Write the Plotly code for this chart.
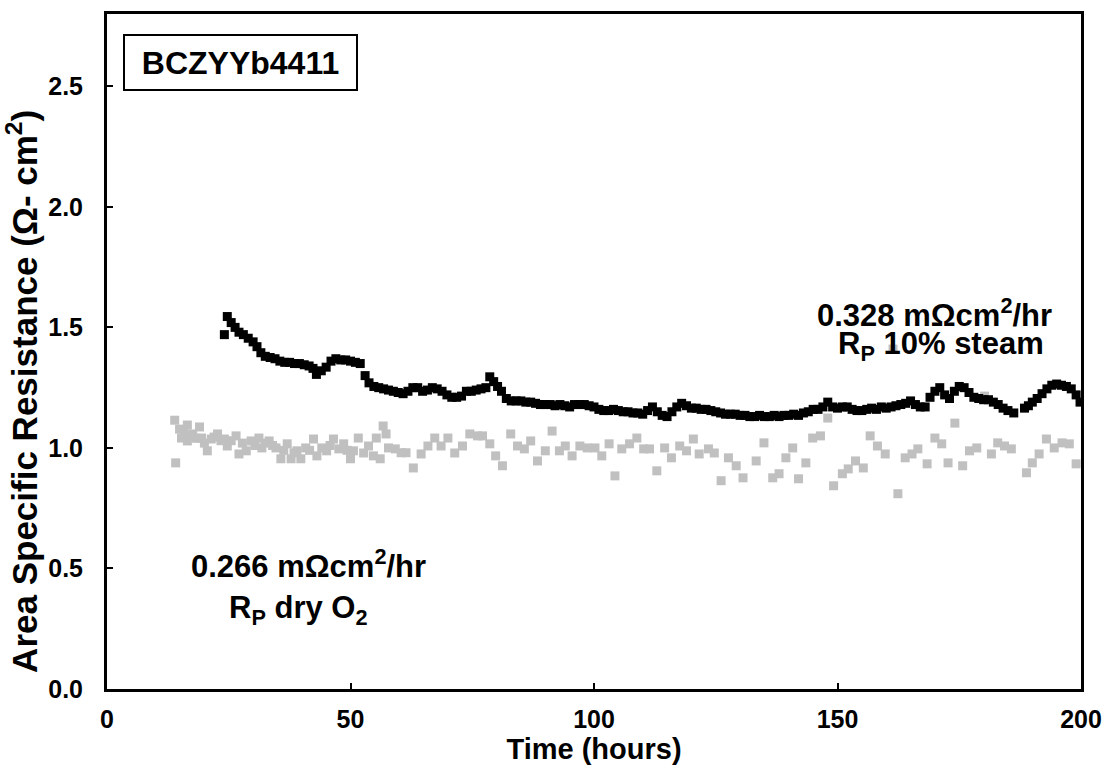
import plotly.graph_objects as go

# Rp in 10% steam (black)
steam_t = [24.1, 24.7, 25.5, 26.3, 27.1, 28.0, 29.0, 30.0, 30.8, 31.6, 32.5, 33.5, 34.5, 35.5, 36.5, 37.5,
           38.5, 39.5, 40.5, 41.5, 42.3, 43.0, 44.0, 45.0, 46.0, 47.0, 48.0, 49.0, 50.0, 51.0, 52.0, 53.0,
           53.8, 54.8, 55.8, 56.8, 57.8, 58.8, 59.8, 60.8, 61.8, 62.8, 63.8, 64.8, 65.8, 66.8, 67.8, 68.8,
           69.8, 70.8, 71.8, 72.8, 73.8, 74.8, 75.8, 76.8, 77.8, 78.6, 79.4, 80.2, 81.0, 82.0, 83.0, 84.0,
           85.0, 86.0, 87.0, 88.0, 89.0, 90.0, 91.0, 92.0, 93.0, 94.0, 95.0, 96.0, 97.0, 98.0, 99.0, 100.0,
           101.0, 102.0, 103.0, 104.0, 105.0, 106.0, 107.0, 108.0, 109.0, 110.0, 111.0, 112.0, 113.0, 114.0,
           115.0, 116.0, 117.0, 118.0, 119.0, 120.0, 121.0, 122.0, 123.0, 124.0, 125.0, 126.0, 127.0, 128.0,
           129.0, 130.0, 131.0, 132.0, 133.0, 134.0, 135.0, 136.0, 137.0, 138.0, 139.0, 140.0, 141.0, 142.0,
           143.0, 144.0, 145.0, 146.0, 147.0, 148.0, 149.0, 150.0, 151.0, 152.0, 153.0, 154.0, 155.0, 156.0,
           157.0, 158.0, 159.0, 160.0, 161.0, 162.0, 163.0, 164.0, 165.0, 166.0, 167.0, 168.0, 169.0, 170.0,
           171.0, 172.0, 173.0, 174.0, 175.0, 176.0, 177.0, 178.0, 179.0, 180.0, 181.0, 182.0, 183.0, 184.0,
           185.0, 186.2, 188.4, 189.2, 190.0, 191.0, 192.0, 193.0, 194.0, 195.0, 196.0, 197.0, 198.0, 199.0,
           199.8]
steam_asr = [1.47, 1.545, 1.52, 1.50, 1.48, 1.47, 1.455, 1.44, 1.42, 1.395, 1.38, 1.375, 1.37, 1.36, 1.355, 1.355,
             1.35, 1.35, 1.345, 1.34, 1.33, 1.305, 1.32, 1.335, 1.36, 1.37, 1.365, 1.365, 1.36, 1.355, 1.35, 1.30,
             1.27, 1.255, 1.25, 1.245, 1.24, 1.235, 1.23, 1.225, 1.235, 1.25, 1.25, 1.235, 1.24, 1.25, 1.245, 1.235,
             1.22, 1.21, 1.21, 1.215, 1.235, 1.235, 1.24, 1.245, 1.25, 1.295, 1.275, 1.255, 1.235, 1.205, 1.195, 1.195,
             1.195, 1.19, 1.19, 1.185, 1.18, 1.18, 1.18, 1.175, 1.18, 1.175, 1.17, 1.18, 1.18, 1.18, 1.175, 1.17,
             1.16, 1.155, 1.155, 1.16, 1.155, 1.15, 1.15, 1.145, 1.145, 1.14, 1.155, 1.17, 1.15, 1.135,
             1.13, 1.15, 1.17, 1.185, 1.175, 1.165, 1.165, 1.16, 1.16, 1.155, 1.15, 1.145, 1.14, 1.14,
             1.14, 1.135, 1.135, 1.13, 1.13, 1.135, 1.13, 1.13, 1.135, 1.13, 1.135, 1.135, 1.14, 1.135,
             1.145, 1.15, 1.16, 1.16, 1.17, 1.19, 1.17, 1.165, 1.17, 1.17, 1.16, 1.155, 1.155, 1.16,
             1.165, 1.16, 1.17, 1.165, 1.17, 1.175, 1.18, 1.185, 1.195, 1.18, 1.17, 1.17, 1.21, 1.235,
             1.25, 1.22, 1.205, 1.235, 1.255, 1.25, 1.23, 1.21, 1.205, 1.20, 1.20, 1.19, 1.18, 1.165,
             1.155, 1.145, 1.165, 1.175, 1.19, 1.205, 1.225, 1.245, 1.26, 1.265, 1.26, 1.255, 1.245, 1.22,
             1.19]

# Rp in dry O2 (grey)
dry_t = [13.9, 14.1, 14.9, 15.3, 15.8, 16.5, 16.5, 17.1, 17.6, 18.3, 19.0, 19.4, 20.0, 20.6, 21.4, 22.0,
         22.7, 23.4, 24.1, 24.7, 25.5, 26.5, 27.1, 27.8, 28.6, 29.6, 30.4, 31.2, 31.8, 32.5, 33.3, 34.0,
         34.7, 35.7, 36.3, 37.0, 37.8, 38.4, 39.0, 39.8, 40.8, 41.6, 42.4, 43.1, 44.1, 45.1, 45.8, 46.5,
         47.6, 48.6, 49.3, 50.0, 50.6, 51.6, 52.7, 53.7, 54.7, 55.3, 56.1, 56.7, 57.3, 57.8, 59.2, 60.4,
         61.4, 62.9, 64.5, 65.9, 67.3, 68.6, 70.0, 71.4, 73.0, 74.5, 76.1, 77.1, 78.6, 79.8, 81.2, 82.9,
         84.3, 85.7, 87.0, 88.4, 90.0, 91.4, 92.9, 94.1, 95.5, 97.1, 98.6, 100.2, 101.6, 103.1, 104.3, 105.7,
         107.3, 108.8, 110.2, 111.4, 112.9, 114.5, 115.9, 117.6, 119.0, 120.4, 121.6, 123.5, 124.7, 126.1,
         127.6, 129.2, 130.6, 133.3, 134.9, 136.7, 138.0, 139.4, 140.8, 142.0, 143.5, 144.9, 146.5, 148.0,
         149.2, 151.0, 152.2, 153.7, 155.3, 156.7, 158.2, 159.8, 161.4, 162.4, 163.9, 165.3, 166.5, 168.4,
         170.0, 171.4, 172.7, 174.1, 175.7, 177.1, 178.6, 180.2, 181.6, 182.9, 184.3, 185.7, 188.8, 190.0,
         191.4, 192.9, 194.5, 196.1, 197.6, 199.0]
dry_asr = [1.115, 0.938, 1.078, 1.041, 1.06, 1.095, 1.029, 1.05, 1.058, 1.04, 1.087, 1.041, 1.02, 0.988, 1.037, 1.045,
           1.058, 1.03, 1.037, 1.008, 1.03, 1.05, 0.975, 1.02, 0.988, 1.029, 1.01, 1.041, 1.0, 1.02, 1.029, 1.01,
           1.0, 0.955, 0.99, 1.017, 0.955, 0.98, 0.988, 0.955, 1.0, 0.99, 1.037, 0.967, 1.0, 0.988, 1.01, 1.037,
           0.996, 1.017, 0.99, 0.955, 0.988, 1.041, 0.979, 1.008, 0.967, 1.041, 0.955, 1.091, 1.058, 1.0, 0.996, 0.98,
           0.98, 0.917, 0.975, 1.008, 1.041, 1.008, 1.041, 0.979, 1.008, 1.058, 1.05, 1.05, 1.017, 0.967, 0.926, 1.058,
           1.008, 0.996, 1.029, 0.946, 0.988, 1.07, 0.988, 1.008, 0.967, 1.008, 1.0, 1.0, 0.967, 1.017, 0.884, 0.996,
           1.017, 1.041, 0.996, 0.996, 0.905, 1.0, 0.959, 1.008, 0.988, 1.037, 0.975, 0.996, 0.979, 0.864,
           0.959, 0.926, 0.876, 0.946, 1.021, 0.876, 0.893, 0.959, 1.0, 0.872, 0.938, 1.041, 1.05, 1.124,
           0.843, 0.893, 0.913, 0.946, 0.917, 1.05, 1.008, 0.975, 1.41, 0.81, 0.959, 0.975, 0.996, 0.934,
           1.041, 1.017, 0.938, 1.103, 0.926, 0.988, 1.0, 1.215, 0.975, 1.021, 1.008, 0.996, 0.897, 0.938,
           0.975, 1.037, 1.0, 1.021, 1.017, 0.934]

x_ticks = [0, 50, 100, 150, 200]
y_ticks = [0.0, 0.5, 1.0, 1.5, 2.0, 2.5]
y_tick_text = ["0.0", "0.5", "1.0", "1.5", "2.0", "2.5"]

FONT = "Liberation Sans, Arial, sans-serif"

fig = go.Figure()
fig.add_trace(go.Scatter(x=dry_t, y=dry_asr, mode="markers",
                         marker=dict(symbol="square", size=9, color="#c0c0c0", line=dict(width=0)),
                         showlegend=False))
fig.add_trace(go.Scatter(x=steam_t, y=steam_asr, mode="markers",
                         marker=dict(symbol="square", size=9, color="#000000", line=dict(width=0)),
                         showlegend=False))

fig.update_layout(
    width=1113, height=773,
    margin=dict(l=107, r=26, t=11, b=84),
    paper_bgcolor="white", plot_bgcolor="white",
    font=dict(family=FONT, color="black"),
    xaxis=dict(range=[0, 200], tickvals=x_ticks, ticktext=[f"<b>{v}</b>" for v in x_ticks],
               ticks="inside", ticklen=6, tickwidth=2, tickcolor="black",
               showline=True, linewidth=3, linecolor="black", mirror=True,
               showgrid=False, zeroline=False, tickfont=dict(size=25, family=FONT),
               ticklabelstandoff=6,
               title=dict(text="<b>Time (hours)</b>", font=dict(size=29, family=FONT), standoff=6)),
    yaxis=dict(range=[0, 2.8], tickvals=y_ticks, ticktext=[f"<b>{t}</b>" for t in y_tick_text],
               ticks="inside", ticklen=6, tickwidth=2, tickcolor="black",
               showline=True, linewidth=3, linecolor="black", mirror=True,
               showgrid=False, zeroline=False, tickfont=dict(size=25, family=FONT),
               ticklabelstandoff=16),
)

# y-axis title (placed to match the reference's position)
fig.add_annotation(xref="paper", yref="paper", x=-0.0867, y=0.441, xanchor="center", yanchor="middle",
                   textangle=-90, showarrow=False,
                   text="<b>Area Specific Resistance (Ω- cm<sup>2</sup>)</b>",
                   font=dict(size=35, family=FONT, color="black"))

fig.add_annotation(xref="paper", yref="paper", x=0.016, y=0.970, xanchor="left", yanchor="top",
                   text="<b>BCZYYb4411</b>", showarrow=False, width=229, height=51,
                   font=dict(size=32, family=FONT, color="black"),
                   bordercolor="black", borderwidth=2, borderpad=1, bgcolor="white")
fig.add_annotation(x=170.0, y=1.558, xref="x", yref="y", showarrow=False,
                   text="<b>0.328 mΩcm<sup>2</sup>/hr</b>", font=dict(size=31, family=FONT, color="black"))
fig.add_annotation(x=171.2, y=1.424, xref="x", yref="y", showarrow=False,
                   text="<b>R<sub>P</sub> 10% steam</b>", font=dict(size=31, family=FONT, color="black"))
fig.add_annotation(x=41.4, y=0.518, xref="x", yref="y", showarrow=False,
                   text="<b>0.266 mΩcm<sup>2</sup>/hr</b>", font=dict(size=31, family=FONT, color="black"))
fig.add_annotation(x=39.4, y=0.326, xref="x", yref="y", showarrow=False,
                   text="<b>R<sub>P</sub> dry O<sub>2</sub></b>", font=dict(size=31, family=FONT, color="black"))

fig.write_html("out.html")
